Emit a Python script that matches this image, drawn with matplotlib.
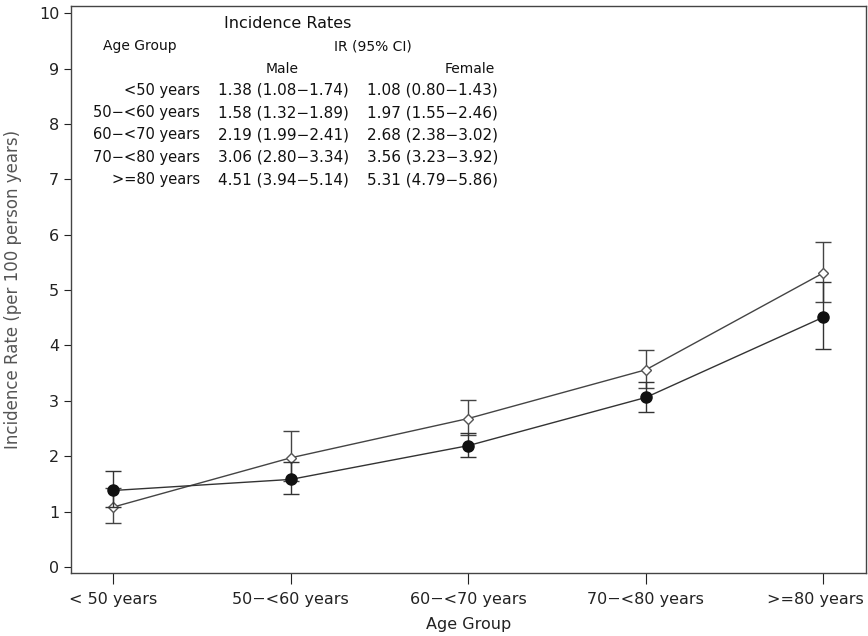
import matplotlib
matplotlib.use('Agg')
import matplotlib.pyplot as plt
import matplotlib.transforms as mtransforms
import numpy as np

age_groups = ["< 50 years", "50\u2212<60 years", "60\u2212<70 years", "70\u2212<80 years", ">=80 years"]
table_groups = ["<50 years", "50\u2212<60 years", "60\u2212<70 years", "70\u2212<80 years", ">=80 years"]

male_ir = [1.38, 1.58, 2.19, 3.06, 4.51]
male_lo = [1.08, 1.32, 1.99, 2.80, 3.94]
male_hi = [1.74, 1.89, 2.41, 3.34, 5.14]

female_ir = [1.08, 1.97, 2.68, 3.56, 5.31]
female_lo = [0.80, 1.55, 2.38, 3.23, 4.79]
female_hi = [1.43, 2.46, 3.02, 3.92, 5.86]

W, H = 868, 636
fig = plt.figure(figsize=(W / 100, H / 100), dpi=100)
ax = fig.add_axes([71 / W, 1 - 573 / H, (866 - 71) / W, (573 - 6) / H])

x = np.arange(1, len(age_groups) + 1)
m = np.array(male_ir)
f = np.array(female_ir)

ax.errorbar(x, f, yerr=[f - np.array(female_lo), np.array(female_hi) - f],
            color="#444444", lw=1.0, elinewidth=1.0, capsize=6, capthick=1.0,
            marker="D", ms=5, mfc="white", mec="#555555", mew=1.0, zorder=3)
ax.errorbar(x, m, yerr=[m - np.array(male_lo), np.array(male_hi) - m],
            color="#333333", lw=1.0, elinewidth=1.0, capsize=6, capthick=1.0,
            marker="o", ms=8, mfc="#111111", mec="#111111", zorder=4)

ax.set_xlim(0.763, 5.24)
ax.set_ylim(-0.11, 10.13)
ax.set_xticks(x)
ax.set_xticklabels(age_groups, fontsize=11.5, color="#222222")
ax.set_yticks(range(0, 11))
ax.tick_params(axis="y", labelsize=11.5, length=5, colors="#222222")
ax.tick_params(axis="x", length=8, pad=6, colors="#222222")
# last label runs into the right edge, nudge it left a bit
last = ax.get_xticklabels()[-1]
last.set_transform(last.get_transform() +
                   mtransforms.ScaledTranslation(-6 / 72, 0, fig.dpi_scale_trans))
for s in ax.spines.values():
    s.set_color("#444444")
    s.set_linewidth(1.0)

ax.set_xlabel("Age Group", fontsize=11.5, color="#222222", labelpad=7)
ax.set_ylabel("Incidence Rate (per 100 person years)", fontsize=12, color="#555555", labelpad=12)


def ft(px, py, s, **kw):
    fig.text(px / W, 1 - py / H, s, va="center", color="#111111", **kw)


ft(288, 24, "Incidence Rates", fontsize=11.5, ha="center")
ft(103, 46, "Age Group", fontsize=10, ha="left")
ft(373, 46, "IR (95% CI)", fontsize=10, ha="center")
ft(282, 69, "Male", fontsize=10, ha="center")
ft(495, 69, "Female", fontsize=10, ha="right")
for i, g in enumerate(table_groups):
    py = 90 + i * 22.5
    ft(200, py, g, fontsize=10.5, ha="right")
    ft(218, py, "%.2f (%.2f\u2212%.2f)" % (male_ir[i], male_lo[i], male_hi[i]), fontsize=11, ha="left")
    ft(367, py, "%.2f (%.2f\u2212%.2f)" % (female_ir[i], female_lo[i], female_hi[i]), fontsize=11, ha="left")

fig.savefig("out.png", dpi=100)
